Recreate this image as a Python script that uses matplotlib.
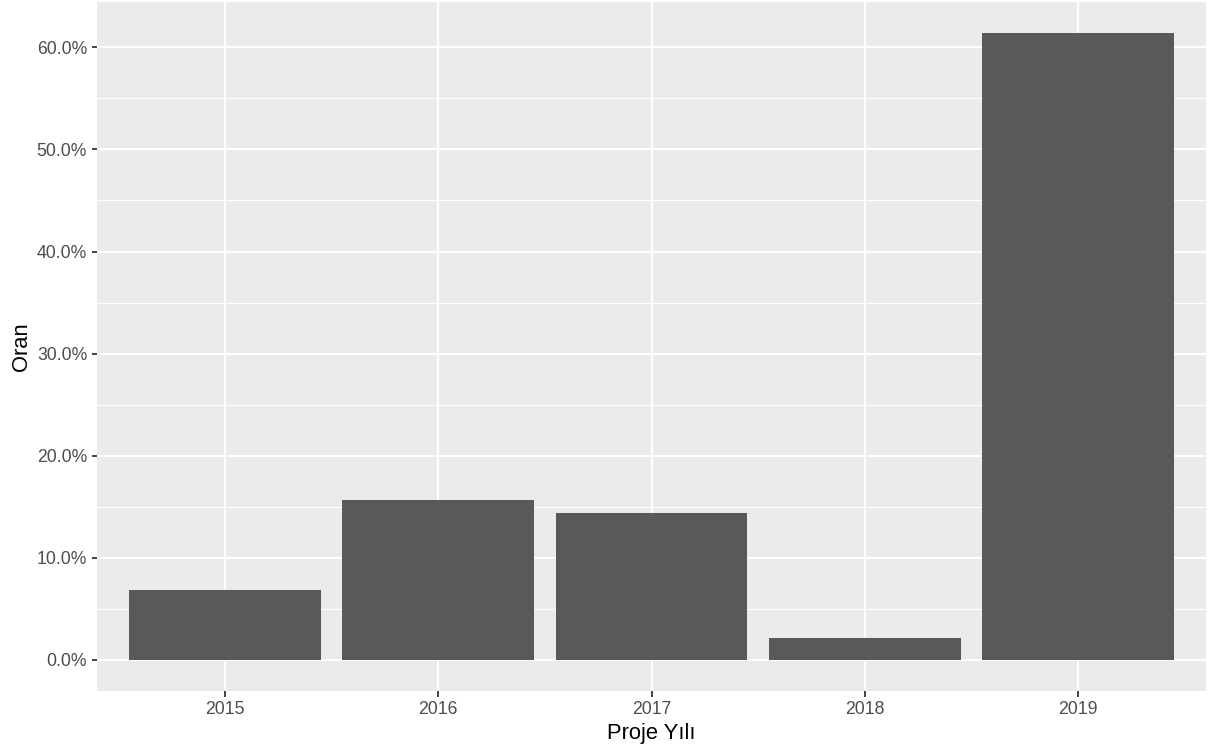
import matplotlib
matplotlib.use("Agg")
import matplotlib.pyplot as plt
from matplotlib.ticker import FuncFormatter, MultipleLocator

years = ["2015", "2016", "2017", "2018", "2019"]
shares = [6.84, 15.65, 14.42, 2.15, 61.37]  # percent
y_ticks = [0, 10, 20, 30, 40, 50, 60]

plt.rcParams['font.family'] = ['Liberation Sans', 'DejaVu Sans']

dpi = 144
fig = plt.figure(figsize=(1208 / dpi, 755 / dpi), dpi=dpi)
ax = fig.add_axes([97 / 1208, (755 - 691.3) / 755, (1206 - 97) / 1208, (691.3 - 2) / 755])

ax.set_facecolor('#EBEBEB')
x = list(range(1, len(years) + 1))
ax.bar(x, shares, width=0.9, color='#595959', zorder=3)

ymax = max(shares)
pad = 0.05 * ymax
ax.set_ylim(-pad, ymax + pad)
ax.set_xlim(0.4, len(years) + 0.6)

ax.set_xticks(x)
ax.set_xticklabels(years)
ax.set_yticks(y_ticks)
ax.yaxis.set_major_formatter(FuncFormatter(lambda v, p: f"{v:.1f}%"))
ax.yaxis.set_minor_locator(MultipleLocator(5))

lw_major = 1.0
ax.grid(which='major', axis='both', color='white', linewidth=lw_major, zorder=1)
ax.grid(which='minor', axis='y', color='white', linewidth=0.55, zorder=1)
ax.set_axisbelow(True)

for s in ax.spines.values():
    s.set_visible(False)

ax.tick_params(axis='both', which='major', length=2.75, width=0.9, color='#333333',
               labelsize=8.8, labelcolor='#4D4D4D', pad=2.2)
ax.tick_params(axis='y', which='minor', length=0)

ax.set_xlabel("Proje Yılı", fontsize=11, color='black', labelpad=2.5)
ax.set_ylabel("Oran", fontsize=11, color='black', labelpad=2.5)

fig.savefig("out.png", dpi=dpi)
